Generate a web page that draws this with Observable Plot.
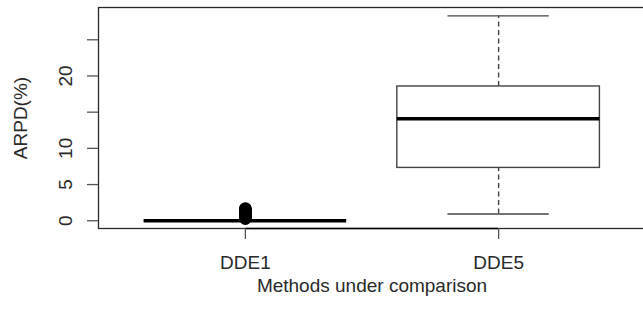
<!DOCTYPE html>
<html>
<head>
<meta charset="utf-8">
<script src="https://cdn.jsdelivr.net/npm/d3@7"></script>
<script src="https://cdn.jsdelivr.net/npm/@observablehq/plot@0.6"></script>
<style>
  html, body { margin: 0; padding: 0; background: #fff; }
</style>
</head>
<body>
<div id="chart"></div>
<script>
// Categories and box statistics (ARPD %)
const categories = ["DDE1", "DDE5"];
const whiskerLow = [0, 0.93];
const q1 = [0, 7.3];
const median = [0, 14.1];
const q3 = [0, 18.55];
const whiskerHigh = [0, 28.3];
// Outliers for DDE1
const outlierCategory = "DDE1";
const outlierValues = [0.3, 0.4, 0.5, 0.6, 0.7, 0.8, 0.9, 1.0, 1.1, 1.2, 1.3, 1.4, 1.5, 1.6, 1.7];
const yTicks = [0, 5, 10, 15, 20, 25];
const yTickLabels = ["0", "5", "10", "", "20", ""];
const yTitle = "ARPD(%)";
const xTitle = "Methods under comparison";

const boxes = categories.map((c, i) => ({
  cat: c, pos: i + 1,
  lo: whiskerLow[i], q1: q1[i], med: median[i], q3: q3[i], hi: whiskerHigh[i]
}));
const outliers = outlierValues.map(v => ({pos: categories.indexOf(outlierCategory) + 1, v}));

const ink = "#2a2a2a";
const yDomain = [-1.07, 29.46];

const chart = Plot.plot({
  width: 643,
  height: 320,
  marginLeft: 98,
  marginRight: -2,
  marginTop: 7,
  marginBottom: 92,
  style: {fontFamily: "'Liberation Sans', Arial, Helvetica, sans-serif", fontSize: "19px", color: ink, background: "#fff"},
  x: {domain: [0.42, 2.58], axis: null},
  y: {domain: yDomain, axis: null},
  marks: [
    // whiskers (dashed)
    Plot.ruleX(boxes, {x: "pos", y1: "q3", y2: "hi", stroke: "#444", strokeWidth: 1.4, strokeDasharray: "5,3.5"}),
    Plot.ruleX(boxes, {x: "pos", y1: "lo", y2: "q1", stroke: "#444", strokeWidth: 1.4, strokeDasharray: "5,3.5"}),
    // whisker caps
    Plot.ruleY(boxes, {y: "hi", x1: d => d.pos - 0.2, x2: d => d.pos + 0.2, stroke: "#444", strokeWidth: 1.4}),
    Plot.ruleY(boxes, {y: "lo", x1: d => d.pos - 0.2, x2: d => d.pos + 0.2, stroke: "#444", strokeWidth: 1.4}),
    // boxes
    Plot.rect(boxes, {x1: d => d.pos - 0.4, x2: d => d.pos + 0.4, y1: "q1", y2: "q3", fill: "white", stroke: "#444", strokeWidth: 1.4}),
    // medians
    Plot.ruleY(boxes, {y: "med", x1: d => d.pos - 0.4, x2: d => d.pos + 0.4, stroke: "#000", strokeWidth: 3.6}),
    // outliers
    Plot.dot(outliers, {x: "pos", y: "v", r: 5.5, stroke: "#000", strokeWidth: 1.6, fill: "none"}),
    // frame
    Plot.frame({stroke: ink, strokeWidth: 1.3}),
    // x axis line (between first and last category)
    Plot.ruleY([yDomain[0]], {x1: 1, x2: categories.length, stroke: "#000", strokeWidth: 1.6}),
    // axes
    Plot.axisY({ticks: yTicks, tickSize: 11, tickPadding: 16, tickRotate: -90, tickFormat: d => yTickLabels[yTicks.indexOf(d)], fontSize: 19, stroke: "#555", strokeWidth: 1.3, label: null}),
    Plot.axisX({ticks: [1, 2], tickSize: 11, tickPadding: 16, tickFormat: d => categories[d - 1], fontSize: 19, stroke: "#555", strokeWidth: 1.3, label: null}),
    // axis titles
    Plot.text([yTitle], {frameAnchor: "left", dx: -85, rotate: -90, textAnchor: "middle", lineAnchor: "top", fontSize: 19, fill: ink}),
    Plot.text([xTitle], {frameAnchor: "bottom", dy: 63, textAnchor: "middle", lineAnchor: "bottom", fontSize: 19, fill: ink})
  ]
});
document.getElementById("chart").appendChild(chart);
</script>
</body>
</html>
